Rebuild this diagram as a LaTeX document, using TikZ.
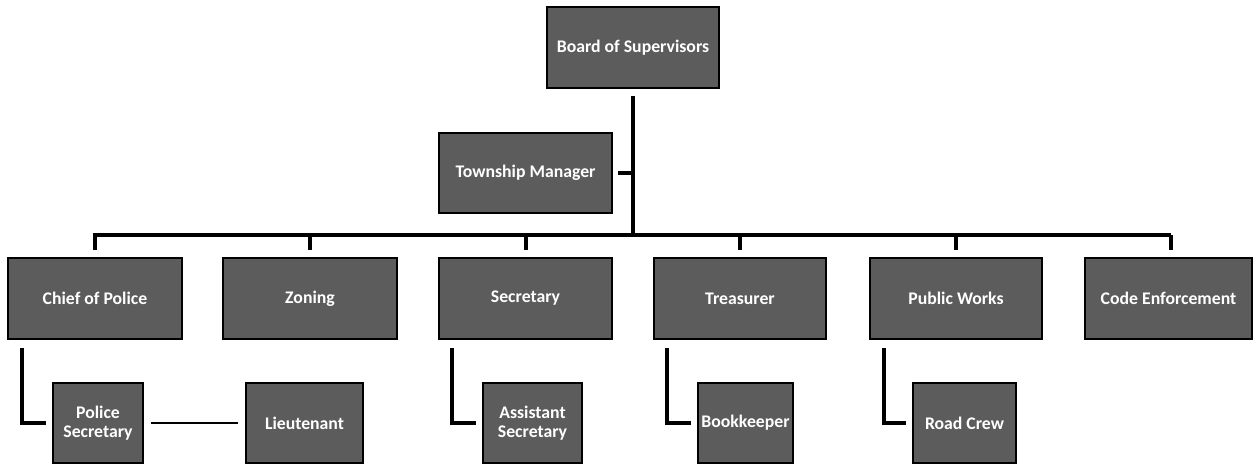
\documentclass[tikz,border=0pt]{standalone}
\usepackage{fontspec}
\setmainfont{Carlito}
\definecolor{boxgray}{RGB}{92,92,92}
\begin{document}
\begin{tikzpicture}[x=0.75pt,y=-0.75pt,
  orgbox/.style={draw=black,line width=1.5pt,fill=boxgray,text=white,
    font=\bfseries\fontsize{13.3}{13.8}\selectfont,align=center,
    inner sep=0pt,minimum height=60pt},
  mainline/.style={line width=3pt,line cap=butt},
  busline/.style={line width=2.4pt},
  subline/.style={line width=3pt},
  thinline/.style={line width=1.6pt}]
\useasboundingbox (0,0) rectangle (1255,466);
% top level
\node[orgbox,minimum width=129pt,minimum height=60.75pt] (board) at (633,47.5) {Board of Supervisors};
\node[orgbox,minimum width=129.75pt] (tm) at (525.5,173) {Township Manager};
% level 2
\node[orgbox,minimum width=130.5pt,minimum height=60.75pt] (cop) at (95,298.5) {Chief of Police};
\node[orgbox,minimum width=130.5pt,minimum height=60.75pt] (zon) at (310,298.5) {Zoning};
\node[orgbox,minimum width=129.75pt,minimum height=60.75pt] (sec) at (525.5,298.5) {Secretary};
\node[orgbox,minimum width=129pt,minimum height=60.75pt] (tre) at (740,298.5) {Treasurer};
\node[orgbox,minimum width=129pt,minimum height=60.75pt] (pw) at (956,298.5) {Public Works};
\node[orgbox,minimum width=125.25pt,minimum height=60.75pt] (ce) at (1168.5,298.5) {Code Enforcement};
% level 3
\node[orgbox,minimum width=67.5pt] (ps) at (98,423) {Police\\Secretary};
\node[orgbox,minimum width=87.75pt] (lt) at (304.5,423) {Lieutenant};
\node[orgbox,minimum width=74.25pt] (as) at (532.5,423) {Assistant\\Secretary};
\node[orgbox,minimum width=71.25pt] (bk) at (745.5,423) {Bookkeeper};
\node[orgbox,minimum width=77.25pt] (rc) at (964.5,423) {Road Crew};
% bus
\coordinate (busC) at (633,235);
\coordinate (busL) at (93,235);
\coordinate (busR) at (1171,235);
\draw[mainline,shorten <=5pt] (board.south) -- (busC);
\draw[busline] (busL) -- (busR);
\draw[mainline,shorten <=4pt] (tm.east) -- (tm.east -| busC);
\foreach \n in {cop,zon,sec,tre,pw}{
  \draw[subline,shorten >=5pt] (\n.north |- busL) -- (\n.north);
}
\draw[subline,shorten >=5pt] (busR) -- (busR |- ce.north);
% level 3 connectors
\draw[subline,shorten <=6pt,shorten >=4.5pt] ([xshift=11.25pt]cop.south west) |- (ps.west);
\draw[subline,shorten <=6pt,shorten >=4.5pt] ([xshift=10.5pt]sec.south west) |- (as.west);
\draw[subline,shorten <=6pt,shorten >=4.5pt] ([xshift=10.5pt]tre.south west) |- (bk.west);
\draw[subline,shorten <=6pt,shorten >=4.5pt] ([xshift=11.25pt]pw.south west) |- (rc.west);
\draw[thinline,shorten <=5pt,shorten >=5pt] (ps.east) -- (lt.west);
\end{tikzpicture}
\end{document}
